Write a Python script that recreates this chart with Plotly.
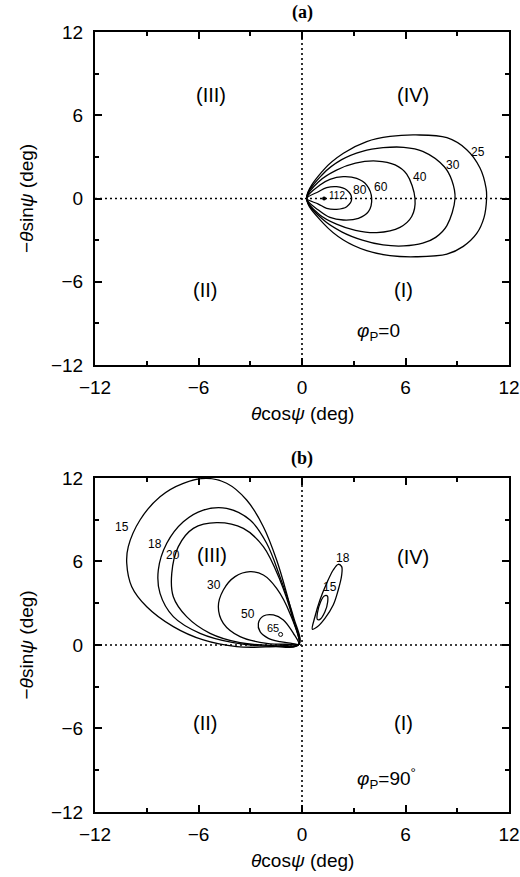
import plotly.graph_objects as go
from plotly.subplots import make_subplots

# ---------------------------------------------------------------------------
# Panel (a): phi_P = 0  -- closed level curves, each starting and ending at the cusp
# ---------------------------------------------------------------------------
a_levels = ["80", "60", "40", "30", "25"]

a80_x = [0.27, 0.95, 1.43, 2.01, 2.59, 2.88, 2.59, 2.01, 1.43, 0.95, 0.27]
a80_y = [0.00, 0.49, 0.78, 0.85, 0.61, 0.00, -0.59, -0.78, -0.71, -0.40, 0.00]

a60_x = [0.27, 1.04, 1.62, 2.39, 3.17, 3.75, 4.04, 3.85, 3.27, 2.39, 1.62, 0.95, 0.27]
a60_y = [0.00, 0.97, 1.38, 1.57, 1.45, 0.97, 0.00, -0.95, -1.43, -1.55, -1.36, -0.83, 0.00]

a40_x = [0.27, 1.00, 2.00, 3.10, 4.33, 5.40, 6.07, 6.55, 6.36, 5.68, 4.33, 3.10, 2.00, 1.00, 0.27]
a40_y = [0.00, 1.25, 2.05, 2.55, 2.70, 2.42, 1.75, 0.00, -1.30, -2.08, -2.46, -2.30, -1.85, -1.15, 0.00]

a30_x = [0.27, 1.20, 2.30, 3.50, 4.70, 5.90, 7.00, 8.25, 8.69, 8.87, 8.40, 7.75, 7.00, 5.90, 4.70, 3.50, 2.30, 1.20, 0.27]
a30_y = [0.00, 1.75, 2.80, 3.40, 3.66, 3.69, 3.40, 2.29, 1.30, 0.00, -1.95, -2.80, -3.22, -3.42, -3.35, -3.00, -2.40, -1.50, 0.00]

a25_x = [0.27, 1.24, 2.40, 3.75, 5.10, 6.60, 8.40, 9.55, 10.32, 10.67, 10.70, 10.55, 10.13, 9.35, 8.40, 6.60, 5.10, 3.75, 2.40, 1.24, 0.27]
a25_y = [0.00, 2.05, 3.26, 4.10, 4.47, 4.58, 4.38, 3.52, 2.20, 0.75, 0.00, -1.38, -2.52, -3.45, -4.01, -4.20, -4.12, -3.76, -2.99, -1.79, 0.00]

a_peak_x = [1.28]
a_peak_y = [0.0]
a_peak_label = "112"

# ---------------------------------------------------------------------------
# Panel (b): phi_P = 90 deg
# ---------------------------------------------------------------------------
b_levels = ["50", "30", "20", "18", "15"]

b50_x = [-0.18, -0.50, -1.08, -1.66, -2.24, -2.53, -2.43, -1.95, -1.28, -0.60, -0.18]
b50_y = [0.05, 0.84, 1.80, 2.16, 2.08, 1.56, 0.96, 0.48, 0.24, 0.12, 0.05]

b30_x = [-0.18, -0.70, -1.47, -2.24, -3.01, -3.88, -4.56, -4.85, -4.56, -3.59, -2.05, -0.70, -0.18]
b30_y = [0.05, 2.27, 4.07, 5.03, 5.27, 4.91, 3.95, 2.75, 1.56, 0.60, 0.12, 0.05, 0.05]

b20_x = [-0.18, -0.55, -1.28, -2.24, -3.40, -4.95, -6.30, -7.17, -7.55, -7.46, -6.69, -5.33, -3.59, -1.86, -0.18]
b20_y = [0.05, 2.00, 4.67, 7.07, 8.38, 8.79, 8.38, 7.07, 5.15, 3.47, 2.04, 0.84, 0.17, -0.02, 0.05]

b18_x = [-0.18, -0.50, -1.28, -2.05, -3.01, -4.37, -5.72, -6.88, -7.84, -8.33, -8.23, -7.46, -5.91, -3.98, -2.05, -0.18]
b18_y = [0.05, 2.04, 4.91, 7.31, 8.98, 9.82, 9.70, 8.86, 7.31, 5.39, 3.71, 2.04, 0.84, 0.17, -0.07, 0.05]

b15_x = [-0.18, -0.50, -0.89, -1.47, -2.24, -3.21, -4.37, -5.53, -6.88, -8.23, -9.39, -10.07, -10.16, -9.87, -9.00, -7.46, -5.72, -3.79, -2.05, -0.70, -0.18]
b15_y = [0.05, 1.80, 3.71, 6.11, 8.50, 10.42, 11.62, 11.97, 11.62, 10.66, 8.98, 7.07, 5.87, 4.19, 2.75, 1.32, 0.36, -0.12, -0.14, 0.00, 0.05]

# small islands in quadrant (IV)
b_isl_levels = ["18", "15"]
b_isl18_x = [0.60, 0.75, 1.04, 1.43, 1.81, 2.10, 2.30, 2.30, 2.10, 1.81, 1.33, 0.85, 0.60]
b_isl18_y = [1.13, 2.03, 3.23, 4.43, 5.39, 5.80, 5.63, 5.03, 3.95, 2.87, 1.92, 1.27, 1.13]
b_isl15_x = [0.89, 0.89, 1.08, 1.29, 1.47, 1.49, 1.33, 1.04, 0.89]
b_isl15_y = [1.84, 2.28, 3.11, 3.52, 3.52, 3.11, 2.39, 1.84, 1.84]

b_peak_x = [-1.24]
b_peak_y = [0.76]
b_peak_label = "65"

tick_vals = [-12, -6, 0, 6, 12]
tick_text = ["\u221212", "\u22126", "0", "6", "12"]

# ---------------------------------------------------------------------------
SANS = "Liberation Sans, Arial, sans-serif"
SERIF = "Liberation Serif, Times New Roman, serif"
INK = "black"

fig = make_subplots(rows=2, cols=1, vertical_spacing=0.0)

a_curves = [(a80_x, a80_y), (a60_x, a60_y), (a40_x, a40_y), (a30_x, a30_y), (a25_x, a25_y)]
b_curves = [(b50_x, b50_y), (b30_x, b30_y), (b20_x, b20_y), (b18_x, b18_y), (b15_x, b15_y),
            (b_isl18_x, b_isl18_y), (b_isl15_x, b_isl15_y)]

for cx, cy in a_curves:
    fig.add_trace(go.Scatter(x=cx, y=cy, mode="lines",
                             line=dict(color=INK, width=1.3, shape="spline", smoothing=1.0),
                             showlegend=False, hoverinfo="skip"), row=1, col=1)
for cx, cy in b_curves:
    fig.add_trace(go.Scatter(x=cx, y=cy, mode="lines",
                             line=dict(color=INK, width=1.3, shape="spline", smoothing=1.0),
                             showlegend=False, hoverinfo="skip"), row=2, col=1)

fig.add_trace(go.Scatter(x=a_peak_x, y=a_peak_y, mode="markers",
                         marker=dict(color=INK, size=4), showlegend=False), row=1, col=1)
fig.add_trace(go.Scatter(x=b_peak_x, y=b_peak_y, mode="markers",
                         marker=dict(color=INK, size=4, symbol="circle-open", line=dict(width=1)),
                         showlegend=False), row=2, col=1)

# dotted cross-hairs through the origin
for xr, yr in (("x", "y"), ("x2", "y2")):
    fig.add_shape(type="line", xref=xr, yref=yr, x0=-12, x1=12, y0=0, y1=0,
                  line=dict(color=INK, width=1.6, dash="2px,3px"), layer="below")
    fig.add_shape(type="line", xref=xr, yref=yr, x0=0, x1=0, y0=-12, y1=12,
                  line=dict(color=INK, width=1.6, dash="2px,3px"), layer="below")

ann = []


def note(text, x, y, xr, yr, size, family=SANS, **kw):
    ann.append(dict(text=text, x=x, y=y, xref=xr, yref=yr, showarrow=False,
                    font=dict(family=family, size=size, color=INK), **kw))


# curve labels, panel (a)
a_label_pos = [(3.36, 0.61), (4.58, 0.80), (6.84, 1.53), (8.73, 2.41), (10.22, 3.33)]
for lab, (lx, ly) in zip(a_levels, a_label_pos):
    note(lab, lx, ly, "x", "y", 12)
note(a_peak_label, 2.05, 0.25, "x", "y", 10)

# curve labels, panel (b)
b_label_pos = [(-3.11, 2.23), (-5.10, 4.31), (-7.46, 6.47), (-8.52, 7.26), (-10.45, 8.50)]
for lab, (lx, ly) in zip(b_levels, b_label_pos):
    note(lab, lx, ly, "x2", "y2", 12)
for lab, (lx, ly) in zip(b_isl_levels, [(2.40, 6.23), (1.62, 4.15)]):
    note(lab, lx, ly, "x2", "y2", 12)
note(b_peak_label, -1.70, 1.20, "x2", "y2", 11)

# quadrant labels
for xr, yr, pos in (("x", "y", [(-5.3, 7.46), (6.45, 7.46), (-5.6, -6.6), (5.87, -6.6)]),
                    ("x2", "y2", [(-5.24, 6.45), (6.45, 6.35), (-5.62, -5.63), (5.87, -5.63)])):
    for txt, (qx, qy) in zip(["(III)", "(IV)", "(II)", "(I)"], pos):
        note(txt, qx, qy, xr, yr, 20)

# phi_P annotations
note("<i>\u03c6</i><sub>P</sub>=0", 3.07, -9.62, "x", "y", 19, xanchor="left")
note("<i>\u03c6</i><sub>P</sub>=90<sup>\u00b0</sup>", 3.07, -9.56, "x2", "y2", 19, xanchor="left")

# panel titles
note("<b>(a)</b>", 0, 12.0, "x", "y", 18, family=SERIF, yanchor="bottom", yshift=7)
note("<b>(b)</b>", 0, 12.0, "x2", "y2", 18, family=SERIF, yanchor="bottom", yshift=7)

# axis titles
xt = "<i>\u03b8</i>cos<i>\u03c8</i> (deg)"
yt = "\u2212<i>\u03b8</i>sin<i>\u03c8</i> (deg)"
note(xt, 0, -12, "x", "y", 19, yanchor="top", yshift=-36)
note(xt, 0, -12, "x2", "y2", 19, yanchor="top", yshift=-36)
note(yt, -12, 0, "x", "y", 19, textangle=-90, xanchor="right", xshift=-56)
note(yt, -12, 0, "x2", "y2", 19, textangle=-90, xanchor="right", xshift=-56)

axis_common = dict(
    range=[-12, 12], tickmode="array", tickvals=tick_vals, ticktext=tick_text,
    ticks="inside", ticklen=7, tickwidth=1.5, tickcolor=INK,
    minor=dict(tickmode="linear", tick0=0, dtick=3, ticks="inside", ticklen=4,
               tickwidth=1.5, tickcolor=INK, showgrid=False),
    showline=True, linewidth=2, linecolor=INK, mirror="allticks",
    showgrid=False, zeroline=False, automargin=False,
    tickfont=dict(family=SANS, size=19, color=INK),
)

fig.update_xaxes(**axis_common, ticklabelstandoff=4)
fig.update_yaxes(**axis_common, ticklabelstandoff=6)

fig.update_layout(
    width=520, height=877,
    margin=dict(l=95, r=11, t=32, b=65, autoexpand=False),
    plot_bgcolor="white", paper_bgcolor="white",
    annotations=ann,
    showlegend=False,
)
fig.update_yaxes(domain=[0.57308, 1.0], row=1, col=1)
fig.update_yaxes(domain=[0.0, 0.42821], row=2, col=1)

fig.write_html("out.html")
